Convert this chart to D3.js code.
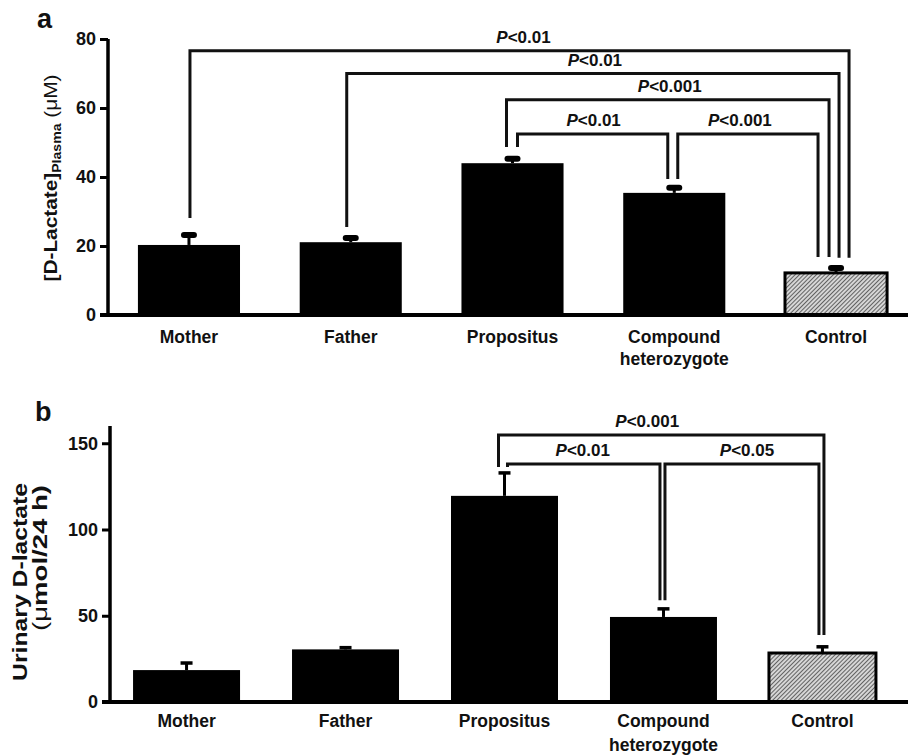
<!DOCTYPE html>
<html>
<head>
<meta charset="utf-8">
<script src="https://cdn.jsdelivr.net/npm/d3@7"></script>
<style>
  html, body { margin: 0; padding: 0; background: #fff; }
  svg { display: block; font-family: "Liberation Sans", Arial, sans-serif; }
</style>
</head>
<body>
<svg id="chart" width="908" height="755"></svg>
<script>
// Groups compared in both panels
const categories = ["Mother", "Father", "Propositus", "Compound heterozygote", "Control"];
const categoryLines = [["Mother"], ["Father"], ["Propositus"], ["Compound", "heterozygote"], ["Control"]];

// Panel a: plasma D-lactate (µM), mean and error
const plasmaMean = [20.3, 21.1, 44.0, 35.4, 12.2];
const plasmaErr  = [2.9, 1.2, 1.3, 1.5, 1.4];
const plasmaTicks = [0, 20, 40, 60, 80];

// Panel b: urinary D-lactate (µmol/24 h), mean and error
const urineMean = [18.5, 30.5, 119.5, 49.3, 28.4];
const urineErr  = [4.1, 1.0, 13.3, 4.7, 3.6];
const urineTicks = [0, 50, 100, 150];

// Significance brackets: group indices, label, bracket height and leg ends (data units)
const plasmaBrackets = [
  { from: 0, to: 4, label: "0.01",  top: 76.6, legFrom: 28.1, legTo: 16.6 },
  { from: 1, to: 4, label: "0.01",  top: 70.0, legFrom: 25.5, legTo: 16.6 },
  { from: 2, to: 4, label: "0.001", top: 62.4, legFrom: 48.7, legTo: 16.8 },
  { from: 2, to: 3, label: "0.01",  top: 52.5, legFrom: 48.7, legTo: 39.4 },
  { from: 3, to: 4, label: "0.001", top: 52.5, legFrom: 39.4, legTo: 16.8 }
];
const urineBrackets = [
  { from: 2, to: 4, label: "0.001", top: 154.8, legFrom: 136.3, legTo: 38.9 },
  { from: 2, to: 3, label: "0.01",  top: 138.0, legFrom: 136.3, legTo: 59.0 },
  { from: 3, to: 4, label: "0.05",  top: 138.0, legFrom: 59.0,  legTo: 38.9 }
];

// Horizontal nudges (px) of each bracket's legs from the bar centres and of its label
const plasmaLegShift = [[1, 13], [-4, 3], [-6, -7], [5, -6.5], [3.5, -18]];
const plasmaLabelShift = [4, 2, 2, 1, -8];
const urineLegShift  = [[-6, 1.5], [3, -3.5], [1.5, -3.5]];
const urineLabelShift = [-14, -1, 5];

const svg = d3.select("#chart");

// Diagonal hatch for the control bar
const defs = svg.append("defs");
const pat = defs.append("pattern")
  .attr("id", "hatch")
  .attr("patternUnits", "userSpaceOnUse")
  .attr("width", 3).attr("height", 3)
  .attr("patternTransform", "rotate(45)");
pat.append("rect").attr("width", 3).attr("height", 3).attr("fill", "#d6d6d6");
pat.append("line").attr("x1", 0).attr("y1", 0).attr("x2", 0).attr("y2", 3)
  .attr("stroke", "#222").attr("stroke-width", 1.3);

function drawPanel(cfg) {
  const g = svg.append("g");
  const x = d3.scaleBand().domain(categories)
    .range(cfg.xRange).paddingInner(cfg.padIn).paddingOuter(cfg.padOut);
  const y = d3.scaleLinear().domain(cfg.yDomain).range(cfg.yRange);
  const cx = i => x(categories[i]) + x.bandwidth() / 2;

  // bars
  g.selectAll("rect.bar").data(cfg.mean).join("rect")
    .attr("class", "bar")
    .attr("x", (d, i) => x(categories[i]))
    .attr("y", d => y(d))
    .attr("width", x.bandwidth())
    .attr("height", d => y(0) - y(d))
    .attr("fill", (d, i) => i === 4 ? "url(#hatch)" : "#000")
    .attr("stroke", (d, i) => i === 4 ? "#000" : "none")
    .attr("stroke-width", 3);

  // error bars (upper only)
  g.selectAll("line.stem").data(cfg.mean).join("line")
    .attr("x1", (d, i) => cx(i)).attr("x2", (d, i) => cx(i))
    .attr("y1", d => y(d)).attr("y2", (d, i) => y(d + cfg.err[i]))
    .attr("stroke", "#000").attr("stroke-width", 3);
  g.selectAll("line.cap").data(cfg.mean).join("line")
    .attr("x1", (d, i) => cx(i) - cfg.capHalf).attr("x2", (d, i) => cx(i) + cfg.capHalf)
    .attr("y1", (d, i) => y(d + cfg.err[i])).attr("y2", (d, i) => y(d + cfg.err[i]))
    .attr("stroke", "#000").attr("stroke-width", cfg.capWidth)
    .attr("stroke-linecap", cfg.capRound ? "round" : "butt");

  // y axis
  const yAxis = d3.axisLeft(y).tickValues(cfg.ticks).tickSize(8).tickSizeOuter(0).tickPadding(4);
  const ya = g.append("g").attr("transform", `translate(${cfg.xRange[0]},0)`).call(yAxis);
  ya.select(".domain").remove();
  ya.selectAll(".tick line").attr("stroke", "#000").attr("stroke-width", 3);
  ya.selectAll(".tick text")
    .attr("font-size", 18).attr("font-weight", "bold").attr("fill", "#111")
    .attr("font-family", "Liberation Sans, Arial, sans-serif");
  g.append("line")
    .attr("x1", cfg.xRange[0]).attr("x2", cfg.xRange[0])
    .attr("y1", y(0) + 2).attr("y2", y(cfg.yDomain[1]))
    .attr("stroke", "#000").attr("stroke-width", 3.5);

  // x axis baseline
  g.append("line")
    .attr("x1", cfg.xRange[0] - 8).attr("x2", 908)
    .attr("y1", y(0)).attr("y2", y(0))
    .attr("stroke", "#000").attr("stroke-width", 4);

  // category labels
  categoryLines.forEach((lines, i) => {
    const t = g.append("text")
      .attr("x", cx(i)).attr("y", y(0) + cfg.labelDy)
      .attr("text-anchor", "middle")
      .attr("font-size", 17.5).attr("font-weight", "bold").attr("fill", "#111");
    lines.forEach((ln, k) => {
      t.append("tspan").attr("x", cx(i)).attr("dy", k === 0 ? 0 : cfg.lineGap).text(ln);
    });
  });

  // significance brackets
  cfg.brackets.forEach((b, k) => {
    const x1 = cx(b.from) + cfg.legShift[k][0];
    const x2 = cx(b.to) + cfg.legShift[k][1];
    const path = d3.path();
    path.moveTo(x1, y(b.legFrom));
    path.lineTo(x1, y(b.top));
    path.lineTo(x2, y(b.top));
    path.lineTo(x2, y(b.legTo));
    g.append("path").attr("d", path.toString())
      .attr("fill", "none").attr("stroke", "#111").attr("stroke-width", 3)
      .attr("stroke-linejoin", "miter");
    const t = g.append("text")
      .attr("x", (x1 + x2) / 2 + cfg.labelShift[k]).attr("y", y(b.top) - 8)
      .attr("text-anchor", "middle")
      .attr("font-size", 17).attr("font-weight", "bold").attr("fill", "#111");
    t.append("tspan").attr("font-style", "italic").text("P");
    t.append("tspan").text("<" + b.label);
  });

  return { g, x, y };
}

// Panel a
drawPanel({
  xRange: [108, 917], padIn: 0.369, padOut: 0.185,
  yDomain: [0, 80], yRange: [315, 39],
  mean: plasmaMean, err: plasmaErr, ticks: plasmaTicks,
  capHalf: 5, capWidth: 6, capRound: true,
  labelDy: 28, lineGap: 22,
  brackets: plasmaBrackets, legShift: plasmaLegShift, labelShift: plasmaLabelShift
});
svg.append("text").attr("x", 37).attr("y", 28)
  .attr("font-size", 27).attr("font-weight", "bold").attr("fill", "#111").text("a");
const ta = svg.append("text")
  .attr("transform", "translate(57,178) rotate(-90)")
  .attr("text-anchor", "middle")
  .attr("font-size", 18.5).attr("font-weight", "bold").attr("fill", "#111")
  .attr("textLength", 207).attr("lengthAdjust", "spacingAndGlyphs");
ta.append("tspan").text("[D-Lactate]");
ta.append("tspan").attr("font-size", 12.5).attr("dy", 4).text("Plasma");
ta.append("tspan").attr("dy", -4).attr("font-weight", "normal").text(" (\u03bcM)");

// Panel b
drawPanel({
  xRange: [110, 899], padIn: 0.327, padOut: 0.145,
  yDomain: [0, 160], yRange: [702, 426],
  mean: urineMean, err: urineErr, ticks: urineTicks,
  capHalf: 6, capWidth: 3.5, capRound: false,
  labelDy: 25, lineGap: 24,
  brackets: urineBrackets, legShift: urineLegShift, labelShift: urineLabelShift
});
svg.append("text").attr("x", 35).attr("y", 421)
  .attr("font-size", 27).attr("font-weight", "bold").attr("fill", "#111").text("b");
svg.append("text")
  .attr("transform", "translate(27,582) rotate(-90)")
  .attr("text-anchor", "middle")
  .attr("font-size", 20.5).attr("font-weight", "bold").attr("fill", "#111")
  .attr("textLength", 198).attr("lengthAdjust", "spacingAndGlyphs")
  .text("Urinary D-lactate");
const tb = svg.append("text")
  .attr("transform", "translate(47,558) rotate(-90)")
  .attr("text-anchor", "middle")
  .attr("font-size", 20).attr("font-weight", "bold").attr("fill", "#111")
  .attr("textLength", 146).attr("lengthAdjust", "spacingAndGlyphs");
tb.append("tspan").attr("font-weight", "normal").text("(\u03bc");
tb.append("tspan").text("mol/24 h)");
</script>
</body>
</html>
